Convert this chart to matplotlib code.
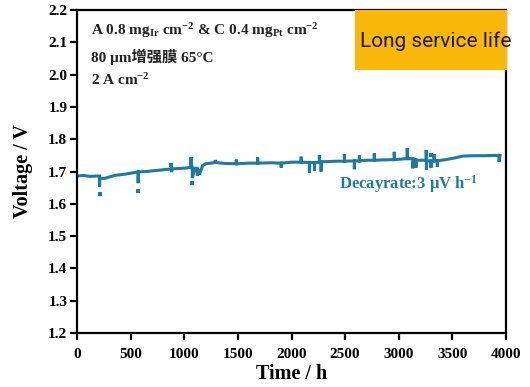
import matplotlib
matplotlib.use("Agg")
import matplotlib.pyplot as plt
from matplotlib.patches import Rectangle

plt.rcParams["font.family"] = ["Liberation Serif", "Noto Sans CJK SC"]
plt.rcParams["font.weight"] = "bold"
plt.rcParams["mathtext.fontset"] = "custom"
plt.rcParams["mathtext.rm"] = "Liberation Serif:bold"
plt.rcParams["mathtext.it"] = "Liberation Serif:bold"
plt.rcParams["mathtext.bf"] = "Liberation Serif:bold"
plt.rcParams["axes.unicode_minus"] = False

# ---- durability test, 2 A cm-2, 65 °C ----
time_h = [0, 60, 120, 190, 210, 210, 212, 260, 350, 450, 540, 570, 570, 572,
          640, 760, 880, 880, 882, 882, 884, 980, 1050, 1060, 1060, 1075, 1075,
          1100, 1120, 1122, 1140, 1142, 1170, 1200, 1290, 1290, 1292, 1380,
          1485, 1485, 1487, 1600, 1684, 1684, 1686, 1800, 1904, 1904, 1906,
          2000, 2090, 2090, 2092, 2167, 2167, 2169, 2214, 2214, 2216, 2260,
          2260, 2262, 2276, 2276, 2278, 2350, 2420, 2493, 2493, 2495, 2586,
          2586, 2588, 2633, 2633, 2635, 2700, 2772, 2772, 2774, 2850, 2958,
          2958, 2960, 3000, 3079, 3079, 3081, 3130, 3130, 3140, 3160, 3160,
          3162, 3200, 3256, 3256, 3258, 3258, 3260, 3300, 3300, 3302, 3330,
          3330, 3332, 3360, 3360, 3362, 3400, 3440, 3520, 3600, 3700, 3800,
          3900, 3935, 3935, 3945]
voltage_v = [1.686, 1.688, 1.685, 1.686, 1.686, 1.653, 1.679, 1.679, 1.688,
             1.692, 1.697, 1.699, 1.664, 1.699, 1.700, 1.704, 1.708, 1.716,
             1.708, 1.698, 1.708, 1.710, 1.712, 1.712, 1.736, 1.712, 1.680,
             1.710, 1.710, 1.687, 1.708, 1.690, 1.718, 1.724, 1.728, 1.736,
             1.728, 1.725, 1.724, 1.737, 1.724, 1.726, 1.726, 1.744, 1.726,
             1.727, 1.726, 1.712, 1.726, 1.729, 1.729, 1.746, 1.729, 1.728,
             1.697, 1.728, 1.728, 1.702, 1.728, 1.729, 1.751, 1.729, 1.729,
             1.700, 1.730, 1.731, 1.732, 1.732, 1.754, 1.732, 1.733, 1.707,
             1.733, 1.733, 1.750, 1.733, 1.735, 1.735, 1.756, 1.735, 1.736,
             1.737, 1.761, 1.737, 1.738, 1.740, 1.773, 1.740, 1.740, 1.710,
             1.738, 1.736, 1.712, 1.735, 1.735, 1.735, 1.767, 1.735, 1.705,
             1.733, 1.733, 1.712, 1.733, 1.733, 1.750, 1.733, 1.733, 1.714,
             1.733, 1.735, 1.737, 1.742, 1.748, 1.749, 1.749, 1.750, 1.750,
             1.730, 1.750]

# stray readings
stray_t = [210, 570, 1075, 1060, 880, 3300, 3330]
stray_v = [1.630, 1.641, 1.665, 1.740, 1.719, 1.752, 1.748]

line_color = "#1e7aa0"

fig = plt.figure(figsize=(5.3, 3.87), dpi=100)
ax = fig.add_axes([0.1453, 0.1395, 0.8094, 0.8345])

ax.plot(time_h, voltage_v, color=line_color, linewidth=2.2, solid_joinstyle="miter")
ax.plot(stray_t, stray_v, linestyle="none", marker="s", markersize=2.5,
        color=line_color, markeredgewidth=0)

ax.set_xlim(0, 4000)
ax.set_ylim(1.2, 2.2)
ax.set_xticks(range(0, 4001, 500))
ax.set_yticks([1.2 + 0.1 * i for i in range(11)])
ax.set_yticklabels([f"{1.2 + 0.1 * i:.1f}" for i in range(11)])

for side in ["left", "bottom", "top", "right"]:
    ax.spines[side].set_linewidth(1.6)
ax.tick_params(axis="both", direction="out", length=5, width=1.6, labelsize=11)
ax.tick_params(axis="x", pad=6)
ax.tick_params(axis="y", pad=2)

ax.set_xlabel("Time / h", fontsize=14.5, fontweight="bold", labelpad=2)
ax.set_ylabel("Voltage / V", fontsize=14.5, fontweight="bold", labelpad=11)

# test conditions
ax.text(0.033, 0.938, r"A 0.8 mg$_{\mathregular{Ir}}$ cm$^{-2}$ & C 0.4 mg$_{\mathregular{Pt}}$ cm$^{-2}$",
        transform=ax.transAxes, fontsize=11, fontweight="bold", va="center", color="#222222")
ax.text(0.033, 0.854, "80 μm增强膜 65°C", transform=ax.transAxes, fontsize=11,
        fontweight="bold", va="center", color="#222222")
ax.text(0.033, 0.783, r"2 A cm$^{-2}$", transform=ax.transAxes, fontsize=11,
        fontweight="bold", va="center", color="#222222")

ax.text(2440, 1.66, r"Decayrate:3 μV h$^{-1}$", fontsize=12, fontweight="bold",
        color=line_color, va="center")

# highlight badge
badge = Rectangle((355 / 530, 1 - 70 / 387), 152 / 530, 60 / 387,
                  transform=fig.transFigure, facecolor="#f9b80a", edgecolor="none", zorder=5)
fig.patches.append(badge)
fig.text(436 / 530, 1 - 41 / 387, "Long service life", fontsize=15,
         family=["Roboto", "DejaVu Sans"], fontweight="normal",
         color="#1a1a1a", ha="center", va="center", zorder=6)

fig.savefig("out.png", dpi=100)
